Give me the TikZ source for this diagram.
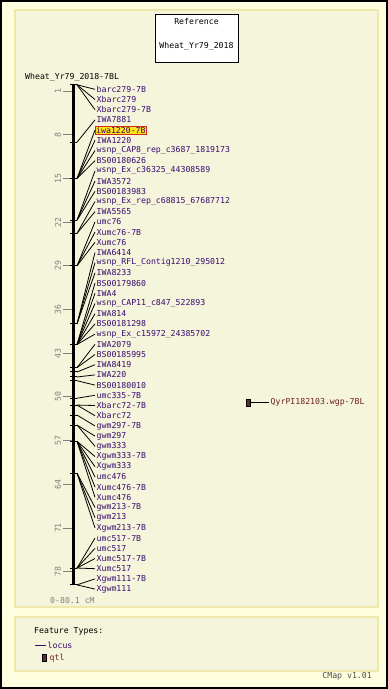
\documentclass[tikz,border=0pt]{standalone}
\usepackage{fontspec}
\setmonofont{DejaVu Sans Mono}
\usepackage{tikz}
\usetikzlibrary{positioning}
\definecolor{disZemin}{HTML}{FFFFE0}
\definecolor{panelZemin}{HTML}{F5F5DC}
\definecolor{panelCizgi}{HTML}{EEE8AA}
\definecolor{lokusMor}{HTML}{3A0A70}
\definecolor{qtlKahve}{HTML}{702020}
\definecolor{qtlKutu}{HTML}{5C2E2E}
\definecolor{olcekGri}{HTML}{808080}
\definecolor{vurguSari}{HTML}{FFE21A}
\definecolor{vurguKirmizi}{HTML}{D03010}

\begin{document}
\begin{tikzpicture}[x=1pt,y=-1pt,
  every node/.style={font=\ttfamily\fontsize{8.2}{9}\selectfont,inner sep=1.5pt},
  panel/.style={draw=panelCizgi,fill=panelZemin,line width=1.5pt},
  refbox/.style={draw=black,fill=white,minimum width=83pt,minimum height=48pt},
  lbl/.style={anchor=west,text=lokusMor},
  hl/.style={lbl,fill=vurguSari,draw=vurguKirmizi,inner sep=1pt},
  qlbl/.style={anchor=west,text=qtlKahve},
  scl/.style={text=olcekGri,rotate=90,inner sep=0pt},
  link/.style={black,line width=0.8pt},
  mtick/.style={black,line width=1pt},
  stick/.style={olcekGri,line width=1pt},
  qtlbox/.style={draw=black,fill=qtlKutu,minimum width=4pt,minimum height=7pt,inner sep=0pt,line width=0.6pt}]
\useasboundingbox (0,0) rectangle (388,689);
\draw[fill=disZemin,line width=2pt] (1,1) rectangle (387,688);
\draw[panel] (15,10) rectangle (378,607);
\draw[panel] (15,617) rectangle (378,671);

\node[refbox] (ref) at (196.5,38) {};
\node[below=3pt of ref.north] (reft) {Reference};
\node[above=10pt of ref.south] (refm) {Wheat\_Yr79\_2018};

\node[anchor=west,inner sep=0pt] (baslik) at (25,77) {Wheat\_Yr79\_2018-7BL};
\draw[line width=3pt] (73.5,85) -- (73.5,585);
\foreach \c in {1,8,...,78} {
  \draw[stick] (63,84.8+6.243*\c) -- (72,84.8+6.243*\c);
  \node[scl] (s\c) at (58,84.8+6.243*\c) {\c};
}
\node[anchor=west,text=olcekGri,inner sep=0pt] (aralik) at (50,601) {0-80.1 cM};

\foreach \m/\c in {1/0.0,2/9.2,3/15.0,4/21.7,5/23.8,6/29.0,7/38.3,8/41.6,9/45.3,10/46.0,
  11/46.8,12/47.4,13/50.2,14/51.3,15/52.9,16/54.5,17/57.1,18/62.2,19/77.4,20/80.1} {
  \coordinate (m\m) at (77,84.8+6.243*\c);
  \draw[mtick] (m\m) -- ++(-7,0);
}
\foreach \n/\m/\txt in {1/1/barc279-7B,2/1/Xbarc279,3/1/Xbarc279-7B,4/2/IWA7881,
  5/3/iwa1220-7B,6/3/IWA1220,7/3/wsnp\_CAP8\_rep\_c3687\_1819173,8/3/BS00180626,
  9/4/wsnp\_Ex\_c36325\_44308589,10/4/IWA3572,11/4/BS00183983,
  12/5/wsnp\_Ex\_rep\_c68815\_67687712,13/5/IWA5565,14/6/umc76,15/6/Xumc76-7B,16/6/Xumc76,
  17/7/IWA6414,18/7/wsnp\_RFL\_Contig1210\_295012,19/7/IWA8233,20/8/BS00179860,21/8/IWA4,
  22/8/wsnp\_CAP11\_c847\_522893,23/8/IWA814,24/8/BS00181298,25/8/wsnp\_Ex\_c15972\_24385702,
  26/9/IWA2079,27/9/BS00185995,28/10/IWA8419,29/11/IWA220,30/12/BS00180010,
  31/13/umc335-7B,32/14/Xbarc72-7B,33/14/Xbarc72,34/15/gwm297-7B,35/16/gwm297,36/16/gwm333,
  37/17/Xgwm333-7B,38/17/Xgwm333,39/17/umc476,40/17/Xumc476-7B,41/17/Xumc476,
  42/18/gwm213-7B,43/18/gwm213,44/18/Xgwm213-7B,45/19/umc517-7B,46/19/umc517,
  47/19/Xumc517-7B,48/19/Xumc517,49/20/Xgwm111-7B,50/20/Xgwm111} {
  \ifnum\n=5 \def\st{hl}\else\def\st{lbl}\fi
  \node[\st] (l\n) at (95,79.1+10.2*\n) {\txt};
  \draw[link] (m\m) -- (l\n.west);
}

\node[qtlbox] (q) at (248,402.5) {};
\node[qlbl] (ql) at (269,402.5) {QyrPI182103.wgp-7BL};
\draw[link] (q) -- (ql);

\node[anchor=west,inner sep=0pt] (ft) at (34,631) {Feature Types:};
\coordinate (lg) at (35,645);
\node[lbl] (lc) at (46,645) {locus};
\draw[lokusMor,line width=1pt] (lg) -- (lc);
\node[qtlbox] (qb) at (44,658) {};
\node[qlbl] (qt) at (48,658) {qtl};
\node[anchor=east,text=black!70,inner sep=0pt] (cmap) at (372,676) {CMap v1.01};
\end{tikzpicture}
\end{document}
